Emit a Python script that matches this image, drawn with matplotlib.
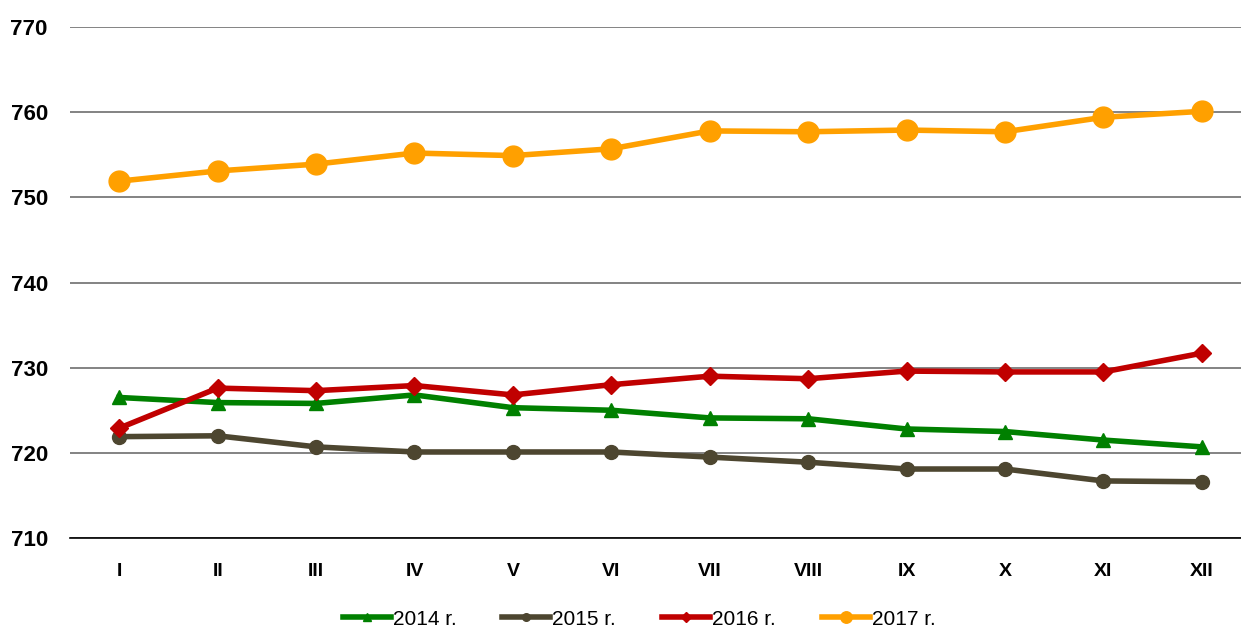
import matplotlib.pyplot as plt
import numpy as np

plt.rcParams["font.family"] = ["Liberation Sans", "DejaVu Sans"]

months = ["I", "II", "III", "IV", "V", "VI", "VII", "VIII", "IX", "X", "XI", "XII"]
y2014 = [726.5, 725.9, 725.8, 726.8, 725.3, 725.0, 724.1, 724.0, 722.8, 722.5, 721.5, 720.7]
y2015 = [721.9, 722.0, 720.7, 720.1, 720.1, 720.1, 719.5, 718.9, 718.1, 718.1, 716.7, 716.6]
y2016 = [722.9, 727.6, 727.3, 727.9, 726.8, 728.0, 729.0, 728.7, 729.6, 729.5, 729.5, 731.7]
y2017 = [751.9, 753.1, 753.9, 755.2, 754.9, 755.7, 757.8, 757.7, 757.9, 757.7, 759.4, 760.1]
labels = ["2014 r.", "2015 r.", "2016 r.", "2017 r."]
yticks = [710, 720, 730, 740, 750, 760, 770]

fig = plt.figure(figsize=(12.41, 6.30), dpi=100)
ax = fig.add_axes([70 / 1241, 92 / 630, 1181 / 1241, 511 / 630])

x = np.arange(len(months))
ax.plot(x, y2014, color="#008000", lw=4, marker="^", ms=10, label=labels[0], zorder=3)
ax.plot(x, y2015, color="#4D4630", lw=4, marker="o", ms=10, label=labels[1], zorder=3)
ax.plot(x, y2016, color="#C00000", lw=4, marker="D", ms=9, label=labels[2], zorder=4)
ax.plot(x, y2017, color="#FFA000", lw=4, marker="o", ms=15, label=labels[3], zorder=3)

ax.set_xlim(-0.5, 11.5)
ax.set_ylim(710, 770)
ax.set_yticks(yticks)
ax.set_xticks(x)
ax.set_xticklabels(months)
ax.grid(axis="y", color="#6e6e6e", lw=1.2, zorder=1)
ax.set_axisbelow(True)
for s in ax.spines.values():
    s.set_visible(False)
ax.spines["bottom"].set_visible(True)
ax.spines["bottom"].set_color("black")
ax.spines["bottom"].set_linewidth(1.2)
ax.tick_params(length=0)
ax.tick_params(axis="y", pad=16, labelsize=16)
ax.tick_params(axis="x", pad=18, labelsize=14)
for t in ax.get_xticklabels() + ax.get_yticklabels():
    t.set_fontweight("bold")

fig.legend(loc="center", bbox_to_anchor=(0.515, 0.017), ncol=4, frameon=False,
           fontsize=15, handlelength=2.3, handletextpad=0.1, columnspacing=2.2,
           markerscale=0.55)

fig.savefig("out.png")
